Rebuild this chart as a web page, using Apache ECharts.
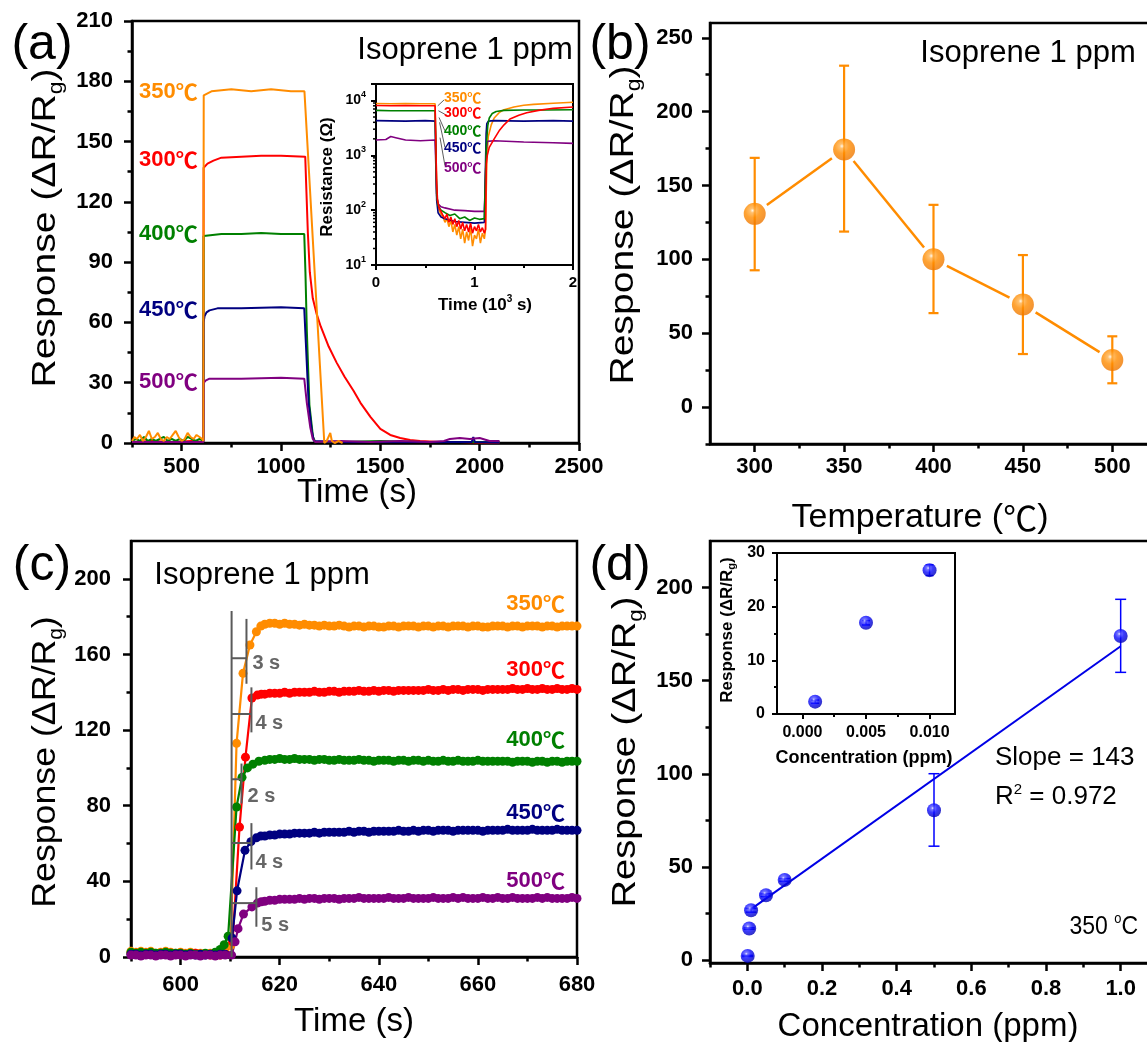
<!DOCTYPE html>
<html>
<head>
<meta charset="utf-8">
<script src="https://cdn.jsdelivr.net/npm/echarts@6.0.0/dist/echarts.min.js"></script>
<style>
html,body{margin:0;padding:0;background:#ffffff;}
#chart{width:1147px;height:1042px;}
</style>
</head>
<body>
<div id="chart"></div>
<script>
// ======================= DATA =======================
// ---- (a) main: response vs time (s) ----
const a350 = [[250,1],[262,3],[275,2],[290,4],[305,1],[320,3],[335,6],[350,2],[365,3],[380,5],[395,2],[410,1],[425,3],[440,2],[455,4],[470,6],[485,3],[500,1],[515,2],[530,5],[545,3],[560,2],[575,4],[590,3],[603,2],[609,1],[611,173],[650,175],[750,176],[850,175],[950,176],[1050,175],[1118,175],[1218,0],[1230,1],[1248,5],[1256,1],[1270,0],[1290,1],[1310,0]];
const a300 = [[250,0.5],[350,1],[450,0.5],[550,1],[609,0.5],[610.5,137],[630,139],[660,140.5],[700,142],[800,142.5],[900,143],[1000,143],[1122,142.5],[1128,125],[1135,105],[1145,85],[1160,72],[1180,64],[1200,58],[1240,48],[1280,40],[1320,33],[1365,26],[1400,20],[1450,13],[1500,7],[1550,4],[1600,2.5],[1650,1.5],[1700,1],[1800,0.5],[1900,0.5],[2000,0.3],[2100,0.3]];
const a400 = [[250,1],[270,2],[290,1],[310,3],[330,1],[350,2],[370,1],[390,2],[410,3],[430,1],[450,2],[470,1],[490,2],[510,1],[530,3],[550,2],[570,1],[590,2],[609,1],[610.5,103],[700,104],[800,104],[900,104.5],[1000,104],[1117,104],[1123,85],[1130,56],[1143,19],[1161,3],[1172,0.5],[1300,0.5],[1500,1],[1700,0.5],[1900,0.5],[2100,0.5]];
const a450 = [[250,0.5],[400,0.5],[550,0.5],[609,0.5],[610.5,60],[615,63],[625,65],[640,66],[680,67],[800,67],[1000,67.5],[1117,67],[1125,50],[1139,20],[1155,6],[1166,1],[1300,0.5],[1600,0.5],[1960,0.5],[1968,3],[1976,0.5],[2100,0.3]];
const a500 = [[250,0.5],[400,0.5],[550,0.5],[609,0.5],[610.5,30],[620,31],[640,32],[800,32],[1000,32.5],[1117,32],[1130,20],[1147,8],[1160,2],[1172,0.5],[1300,1],[1450,0.5],[1600,1],[1750,0.5],[1820,1],[1850,2],[1900,2.5],[1950,2],[2000,2.5],[2050,1],[2100,1]];
const tempNames = ['350','300','400','450','500'];
const aXTicks = [500,1000,1500,2000,2500];
const aXMinor = [250,750,1250,1750,2250];
const aYTicks = [0,30,60,90,120,150,180,210];
const aYMinor = [15,45,75,105,135,165,195];

// ---- (a) inset: resistance (ohm) vs time (10^3 s) ----
const ai350 = [[0,8800],[0.15,8700],[0.3,8800],[0.45,8700],[0.6,8700],[0.612,8600],[0.616,250],[0.625,130],[0.64,100],[0.66,85],[0.68,75],[0.70,60],[0.72,70],[0.74,50],[0.76,65],[0.78,40],[0.80,55],[0.82,35],[0.84,50],[0.86,30],[0.88,45],[0.90,25],[0.92,40],[0.94,28],[0.96,48],[0.98,22],[1.00,35],[1.02,30],[1.04,45],[1.06,25],[1.08,38],[1.10,30],[1.112,45],[1.125,800],[1.14,2200],[1.17,3600],[1.2,4800],[1.25,6000],[1.3,6800],[1.4,7600],[1.5,8200],[1.6,8500],[1.8,8900],[2.0,9300]];
const ai300 = [[0,8100],[0.15,8000],[0.3,8100],[0.45,8000],[0.6,8000],[0.612,7900],[0.616,300],[0.625,150],[0.64,110],[0.66,95],[0.68,80],[0.70,70],[0.72,85],[0.74,60],[0.76,75],[0.78,55],[0.80,70],[0.82,50],[0.84,65],[0.86,45],[0.88,60],[0.90,42],[0.92,55],[0.94,40],[0.96,58],[0.98,38],[1.00,50],[1.02,42],[1.04,55],[1.06,40],[1.08,48],[1.10,38],[1.112,45],[1.12,700],[1.13,1000],[1.15,1400],[1.2,2000],[1.25,2800],[1.3,3600],[1.36,4600],[1.45,5400],[1.53,6000],[1.65,6600],[1.8,7200],[2.0,7600]];
const ai400 = [[0,6600],[0.15,6500],[0.3,6500],[0.45,6500],[0.6,6500],[0.612,6500],[0.616,200],[0.63,120],[0.66,100],[0.7,90],[0.75,80],[0.8,85],[0.85,70],[0.9,75],[0.95,65],[1.0,72],[1.05,68],[1.1,70],[1.112,75],[1.12,1500],[1.135,3500],[1.15,4800],[1.18,5800],[1.22,6300],[1.3,6600],[1.5,6700],[1.7,6700],[2.0,6800]];
const ai450 = [[0,4300],[0.3,4200],[0.5,4300],[0.6,4200],[0.612,4200],[0.616,150],[0.63,90],[0.66,75],[0.7,70],[0.8,62],[0.9,60],[1.0,58],[1.1,60],[1.112,65],[1.118,2500],[1.125,3800],[1.14,4200],[1.2,4300],[1.5,4200],[1.8,4300],[2.0,4200]];
const ai500 = [[0,1900],[0.1,1950],[0.15,2200],[0.2,2100],[0.3,1900],[0.45,1850],[0.6,1900],[0.612,1900],[0.616,180],[0.63,130],[0.66,115],[0.7,110],[0.8,100],[0.9,98],[1.0,95],[1.1,95],[1.112,95],[1.12,1200],[1.13,1800],[1.2,1850],[1.5,1750],[1.8,1700],[2.0,1650]];
const aiLeaders = [[[0.627,8000],[0.69,10200]],[[0.634,6500],[0.70,5600]],[[0.64,4900],[0.70,2800]],[[0.645,4000],[0.70,1400]],[[0.65,2100],[0.70,650]]];
const aiXTicks = [0,1,2];
const aiXMinor = [0.5,1.5];
const aiYMinor = [20,30,40,50,60,70,80,90,200,300,400,500,600,700,800,900,2000,3000,4000,5000,6000,7000,8000,9000];

// ---- (b) response vs temperature ----
const bTemp = [300,350,400,450,500];
const bResp = [130.8,174.4,100.1,69.5,31.8];
const bErrLo = [92.6,118.8,63.6,35.9,16.1];
const bErrHi = [168.7,231.1,136.9,102.9,47.9];
const bXTicks = [300,350,400,450,500];
const bXMinor = [325,375,425,475];
const bYTicks = [0,50,100,150,200,250];
const bYMinor = [-25,25,75,125,175,225];

// ---- (c) response vs time, zoom on rise ----
const c350Pre = [[590,3],[591,2.5],[592,3],[593,2.5],[594,3],[595,2],[596,2.5],[597,3],[598,2.5],[599,2],[600,2.5],[601,2],[602,2.5],[603,2],[604,2],[605,1.5],[606,2],[607,1.5],[608,2],[609,2.5],[610.1,6],[611.3,113],[612.6,150],[614,165],[615.3,172],[616.2,175]];
const c300Pre = [[590,2],[591,2],[592,1.5],[593,2],[594,2],[595,1.5],[596,2],[597,1.5],[598,2],[599,1.5],[600,2],[601,1.5],[602,1.5],[603,2],[604,1.5],[605,1.5],[606,1],[607,1.5],[608,1],[609,1.5],[610.5,8],[611.9,68.7],[613.1,105.7],[614.4,137],[615.5,138.5],[616.3,139]];
const c400Pre = [[590,2.5],[591,2],[592,2.5],[593,2],[594,2.5],[595,2],[596,2],[597,2.5],[598,2],[599,2],[600,2],[601,1.5],[602,2],[603,1.5],[604,1.5],[605,2],[606,1.5],[607,2.5],[608,4],[608.8,6.5],[609.6,11],[611.3,79.3],[612.4,95],[613.5,100],[614.6,102],[615.8,103.5]];
const c450Pre = [[590,1.5],[591,1.5],[592,1],[593,1.5],[594,1.5],[595,1],[596,1.5],[597,1.5],[598,1],[599,1.5],[600,1.5],[601,1],[602,1.5],[603,1],[604,1.5],[605,1],[606,1.5],[607,1],[608,1.5],[609,1.5],[610.4,10],[611.4,35],[613,56.4],[614.2,61],[615.3,63],[616.2,64]];
const c500Pre = [[590,1],[591,1],[592,0.5],[593,1],[594,1],[595,0.5],[596,1],[597,1],[598,0.5],[599,1],[600,1],[601,0.5],[602,1],[603,1],[604,0.5],[605,1],[606,1],[607,0.5],[608,1],[609,1],[610.3,1],[611,8],[611.6,15],[612.7,22.7],[614.4,26.5],[615.5,28.5],[616.3,29.2]];
const cPlatT = [617,618,619,620,621,622,623,624,625,626,627,628,629,630,631,632,633,634,635,636,637,638,639,640,641,642,643,644,645,646,647,648,649,650,651,652,653,654,655,656,657,658,659,660,661,662,663,664,665,666,667,668,669,670,671,672,673,674,675,676,677,678,679,680];
const c350Plat = [176,176.5,176.5,176,176.5,176,176,175.5, 176,175.5,175.5,175,175.5,175,175,175.5, 175,174.5,175,175,174.5,175,175,174.5, 174.5,175,175,174.5,175,175,175,174.5, 175,175,174.5,175,175,174.5,175,175, 175,174.5,175,175,174.5,174.5,175,175, 175,174.5,175,175,174.5,175,175,175, 174.5,175,175,174.5,175,175,175,175];
const c300Plat = [139,139.5,139.5,139.5,140,139.5,140,140, 140,140,140.5,140,140,140.5,140.5,140, 140.5,140.5,140.5,141,140.5,140.5,141,140.5, 141,141,140.5,141,141,141,141,141, 141,141.5,141,141,141.5,141,141.5,141.5, 141,141.5,141.5,141.5,141,141.5,141.5,141.5, 141.5,141.5,142,141.5,141.5,142,141.5,141.5, 142,141.5,141.5,142,141.5,141.5,142,141.5];
const c400Plat = [104,104.5,104.5,105,104.5,104.5,105,104.5, 104.5,104.5,104,104.5,104.5,104,104,104.5, 104,104,104,104.5,104,104,103.5,104, 104,104,103.5,104,104,103.5,104,104, 103.5,104,103.5,103.5,104,103.5,103.5,104, 103.5,103.5,103.5,104,103.5,103.5,103.5,103.5, 103.5,103.5,103,103.5,103.5,103.5,103,103.5, 103.5,103,103.5,103.5,103,103.5,103.5,103.5];
const c450Plat = [64,64.5,64.5,65,65,65,65.5,65.5, 65.5,65.5,66,65.5,66,66,66,66, 66,66.5,66,66.5,66.5,66,66.5,66.5, 66.5,66.5,66.5,67,66.5,66.5,67,66.5, 67,67,66.5,67,67,67,66.5,67, 67,67,67,67,66.5,67,67,67, 67,67.5,67,67,67,67,67.5,67, 67,67,67,67.5,67,67,67,67];
const c500Plat = [29.5,30,30,30.5,30.5,30.5,30.5,31, 30.5,31,31,30.5,31,31,31,30.5, 31,31,31,31.5,31,31,31,31, 31,31.5,31,31,31,31.5,31,31, 31,31,31.5,31,31,31,31.5,31, 31.5,31,31,31,31.5,31,31,31.5, 31,31,31.5,31,31,31,31,31.5, 31,31.5,31,31,31,31,31.5,31];
// response-time markers (s, response)
const rtStart = 610.3;
const rtTop = 183;
const rtEnd = [613.3,614.3,612.3,614.3,615.3];
const rtLevel = [158,128.5,94,60.3,28.5];
const rtTickLo = [144.5,118.8,81.2,46.3,16];
const rtTickHi = [178.8,142.6,102.3,70.8,36.9];
const rtText = ['3 s','4 s','2 s','4 s','5 s'];
const rtLabelAt = [[614.5,155],[615.1,123.5],[613.5,85],[615.1,50],[616.3,16.9]];
const cXTicks = [600,620,640,660,680];
const cXMinor = [590,610,630,650,670];
const cYTicks = [0,40,80,120,160,200];
const cYMinor = [20,60,100,140,180];

// ---- (d) response vs concentration ----
const dConc = [0.001,0.005,0.01,0.05,0.1,0.5,1.0];
const dResp = [2.3,17.0,26.8,34.9,43.1,80.5,174];
const dErrLo = [2.0,16.6,25.8,34.2,42.4,61.2,154.5];
const dErrHi = [2.6,17.4,27.8,35.6,43.8,100.1,193.7];
const dFit = [[0.01,27.4],[1.0,168.5]];
const dXTicks = [0,0.2,0.4,0.6,0.8,1.0];
const dXMinor = [-0.1,0.1,0.3,0.5,0.7,0.9];
const dYTicks = [0,50,100,150,200];
const dYMinor = [25,75,125,175];
const diXTicks = [0,0.005,0.01];
const diXMinor = [0.0025,0.0075];
const diYTicks = [0,10,20,30];
const diYMinor = [5,15,25];

// ======================= STYLE / LAYOUT =======================
const FONT = '"Liberation Sans", Arial, Helvetica, sans-serif';
const CJK = '"Noto Sans CJK SC", "Noto Sans CJK JP", sans-serif';
const COL = ['#FF8C00','#FF0000','#008000','#000080','#800080'];
const GRAY = '#5a5a5a';

const GRIDS = [
  {left:132, top:21,  width:447, height:422}, // a
  {left:376, top:84,  width:197, height:181}, // a inset
  {left:710, top:23,  width:447, height:421}, // b
  {left:131, top:541, width:446, height:416}, // c
  {left:710, top:541, width:448, height:422}, // d
  {left:777, top:553, width:178, height:161}  // d inset
].map((g, i) => Object.assign({
  show:true, borderColor:'#000', borderWidth: (i===1||i===5)?2:2.5,
  backgroundColor:'transparent', containLabel:false, outerBoundsMode:'none'
}, g));

const X = [], Y = [];
function axisPair(dim, gi, cfg) {
  const common = {
    type: cfg.type || 'value', gridIndex: gi, position: dim === 'x' ? 'bottom' : 'left',
    min: cfg.min, max: cfg.max, silent: true,
    splitLine:{show:false}, minorTick:{show:false}, minorSplitLine:{show:false}
  };
  if (cfg.type === 'log') common.logBase = 10;
  const major = Object.assign({}, common, {
    axisLine:{show:true, onZero:false, lineStyle:{color:'#000', width:cfg.lw}},
    axisTick:{show:true, inside:false, length:cfg.tl, lineStyle:{color:'#000', width:cfg.lw}},
    axisLabel:{show:true, margin:cfg.margin, color:'#000', fontFamily:FONT, fontWeight:'bold',
      fontSize:cfg.fs, formatter:cfg.fmt, rich:cfg.rich, lineHeight:cfg.lh}
  });
  if (cfg.majors) { major.axisTick.customValues = cfg.majors; major.axisLabel.customValues = cfg.majors; }
  const minor = Object.assign({}, common, {
    axisLine:{show:false, onZero:false},
    axisTick:{show:!!cfg.minors, inside:false, length:cfg.ml, lineStyle:{color:'#000', width:cfg.lw}},
    axisLabel:{show:false}
  });
  if (cfg.minors) minor.axisTick.customValues = cfg.minors;
  return [major, minor];
}
function addAxes(gi, xc, yc) {
  const [xa, xb] = axisPair('x', gi, xc), [ya, yb] = axisPair('y', gi, yc);
  X.push(xa, xb); Y.push(ya, yb);
}
const intFmt = v => String(Math.round(v));
// a
addAxes(0, {min:250, max:2500, majors:aXTicks, minors:aXMinor, lw:2.5, tl:8, ml:4.5, margin:13, fs:22, fmt:intFmt},
           {min:0, max:210, majors:aYTicks, minors:aYMinor, lw:2.5, tl:8, ml:4.5, margin:19, fs:22, fmt:intFmt});
// a inset
addAxes(1, {min:0, max:2, majors:aiXTicks, minors:aiXMinor, lw:2, tl:5, ml:3, margin:10, fs:15, fmt:intFmt},
           {type:'log', min:10, max:20000, lw:2, tl:5, ml:3, margin:10, fs:14, lh:20,
            fmt: v => { const e = Math.log10(v); const r = Math.round(e); return Math.abs(e - r) > 0.01 ? '' : '10{sup|' + r + '}'; },
            rich:{sup:{fontSize:9, fontWeight:'bold', fontFamily:FONT, verticalAlign:'top', lineHeight:10}}});
// b
addAxes(2, {min:275, max:525, majors:bXTicks, minors:bXMinor, lw:2.5, tl:8, ml:4.5, margin:12, fs:22, fmt:intFmt},
           {min:-25, max:260, majors:bYTicks, minors:bYMinor, lw:2.5, tl:8, ml:4.5, margin:17, fs:22, fmt:intFmt});
// c
addAxes(3, {min:590, max:680, majors:cXTicks, minors:cXMinor, lw:2.5, tl:8, ml:4.5, margin:17, fs:22, fmt:intFmt},
           {min:0, max:220, majors:cYTicks, minors:cYMinor, lw:2.5, tl:8, ml:4.5, margin:20, fs:22, fmt:intFmt});
// d
addAxes(4, {min:-0.1, max:1.1, majors:dXTicks, minors:dXMinor, lw:2.5, tl:8, ml:4.5, margin:15, fs:22, fmt: v => v.toFixed(1)},
           {min:-1.5, max:225, majors:dYTicks, minors:dYMinor, lw:2.5, tl:8, ml:4.5, margin:17, fs:22, fmt:intFmt});
// d inset
addAxes(5, {min:-0.002, max:0.012, majors:diXTicks, minors:diXMinor, lw:2, tl:5, ml:3, margin:11, fs:16, fmt: v => v.toFixed(3)},
           {min:0, max:30, majors:diYTicks, minors:diYMinor, lw:2, tl:5, ml:3, margin:12, fs:16, fmt:intFmt});

const ax = k => ({xAxisIndex:2*k, yAxisIndex:2*k});
const zip = (t, v) => t.slice(0, Math.min(t.length, v.length)).map((x, i) => [x, v[i]]);

function errRender(color, cap, lw) {
  return (params, api) => {
    const x = api.value(0), lo = api.value(1), hi = api.value(2);
    const a = api.coord([x, hi]), b = api.coord([x, lo]);
    const st = {stroke:color, lineWidth:lw};
    return {type:'group', children:[
      {type:'line', shape:{x1:a[0], y1:a[1], x2:b[0], y2:b[1]}, style:st},
      {type:'line', shape:{x1:a[0]-cap, y1:a[1], x2:a[0]+cap, y2:a[1]}, style:st},
      {type:'line', shape:{x1:b[0]-cap, y1:b[1], x2:b[0]+cap, y2:b[1]}, style:st}
    ]};
  };
}
function sphere(c0, c1, c2, c3) {
  return new echarts.graphic.RadialGradient(0.4, 0.35, 0.65, [
    {offset:0, color:c0}, {offset:0.16, color:c1}, {offset:0.5, color:c2}, {offset:1, color:c3}]);
}

const series = [];
// ---- (a) main lines
[a350, a300, a400, a450, a500].forEach((d, i) => series.push(Object.assign({
  type:'line', data:d, showSymbol:false, symbol:'none', lineStyle:{color:COL[i], width:2},
  itemStyle:{color:COL[i]}, z:3 + (i===0 ? 1 : 0), animation:false, silent:true
}, ax(0))));
// ---- (a) inset lines
[ai350, ai300, ai400, ai450, ai500].forEach((d, i) => series.push(Object.assign({
  type:'line', data:d, showSymbol:false, symbol:'none', lineStyle:{color:COL[i], width:1.6},
  z: [3,6,5,4,4][i], animation:false, silent:true
}, ax(1))));
aiLeaders.forEach(seg => series.push(Object.assign({
  type:'line', data:seg, showSymbol:false, symbol:'none', lineStyle:{color:'#333', width:0.8},
  z:7, animation:false, silent:true, clip:false
}, ax(1))));
// log-axis minor ticks for the inset
series.push(Object.assign({
  type:'custom', data: aiYMinor.map(v => [0, v]), clip:false, silent:true, animation:false, z:10,
  renderItem: (params, api) => {
    const p = api.coord([api.value(0), api.value(1)]);
    return {type:'line', shape:{x1:p[0]-3, y1:p[1], x2:p[0], y2:p[1]}, style:{stroke:'#000', lineWidth:1.5}};
  }
}, ax(1)));

// ---- (b)
series.push(Object.assign({
  type:'custom', data: bTemp.map((t, i) => [t, bErrLo[i], bErrHi[i]]), silent:true, animation:false, z:3,
  renderItem: errRender('#FF8C00', 5, 2.2), encode:{x:0, y:[1,2]}
}, ax(2)));
series.push(Object.assign({
  type:'custom', data: bTemp.slice(1).map((t, i) => [bTemp[i], bResp[i], t, bResp[i+1]]), silent:true, animation:false, z:3,
  encode:{x:[0,2], y:[1,3]},
  renderItem: (params, api) => {
    const p0 = api.coord([api.value(0), api.value(1)]), p1 = api.coord([api.value(2), api.value(3)]);
    const dx = p1[0]-p0[0], dy = p1[1]-p0[1], L = Math.hypot(dx, dy), g = 15;
    const ux = dx / L, uy = dy / L;
    return {type:'line', shape:{x1:p0[0]+ux*g, y1:p0[1]+uy*g, x2:p1[0]-ux*g, y2:p1[1]-uy*g},
      style:{stroke:'#FF8C00', lineWidth:2.5}};
  }
}, ax(2)));
series.push(Object.assign({
  type:'scatter', data: zip(bTemp, bResp), symbol:'circle', symbolSize:22, silent:true, animation:false, z:5,
  itemStyle:{color: sphere('#fff4e0', '#ffb04a', '#ff8c00', '#ee7700')}
}, ax(2)));

// ---- (c)
const cPre = [c350Pre, c300Pre, c400Pre, c450Pre, c500Pre];
const cPlat = [c350Plat, c300Plat, c400Plat, c450Plat, c500Plat];
cPre.forEach((pre, i) => series.push(Object.assign({
  type:'line', data: pre.concat(zip(cPlatT, cPlat[i])), symbol:'circle', symbolSize:9, showSymbol:true,
  lineStyle:{color:COL[i], width:2.2}, itemStyle:{color:COL[i], borderWidth:0},
  z: 3, animation:false, silent:true
}, ax(3))));
series.push(Object.assign({
  type:'line', data:[[rtStart, 0], [rtStart, rtTop]], symbol:'none', showSymbol:false,
  lineStyle:{color:GRAY, width:2}, z:8, animation:false, silent:true
}, ax(3)));
series.push(Object.assign({
  type:'custom', z:9, silent:true, animation:false, clip:false,
  data: rtEnd.map((e, i) => [e, rtLevel[i], rtTickLo[i], rtTickHi[i], rtLabelAt[i][0], rtLabelAt[i][1]]),
  encode:{x:[0,4], y:[1,2,3,5]},
  renderItem: (params, api) => {
    const i = params.dataIndex;
    const end = api.value(0), level = api.value(1);
    const s = api.coord([rtStart, level]), e = api.coord([end, level]);
    const lo = api.coord([end, api.value(2)]), hi = api.coord([end, api.value(3)]);
    const lp = api.coord([api.value(4), api.value(5)]);
    const st = {stroke:GRAY, lineWidth:2};
    return {type:'group', children:[
      {type:'line', shape:{x1:s[0], y1:s[1], x2:e[0], y2:e[1]}, style:st},
      {type:'line', shape:{x1:lo[0], y1:lo[1], x2:hi[0], y2:hi[1]}, style:st},
      {type:'text', x:lp[0], y:lp[1], style:{text:rtText[i], fill:'#666666', fontFamily:FONT, fontWeight:'bold', fontSize:20, align:'left', verticalAlign:'middle'}}
    ]};
  }
}, ax(3)));

// ---- (d)
series.push(Object.assign({
  type:'line', data:dFit, symbol:'none', showSymbol:false, lineStyle:{color:'#0000E6', width:2},
  z:3, animation:false, silent:true
}, ax(4)));
series.push(Object.assign({
  type:'custom', data: dConc.map((c, i) => [c, dErrLo[i], dErrHi[i]]), silent:true, animation:false, z:4,
  renderItem: errRender('#0000FF', 5.5, 1.5), encode:{x:0, y:[1,2]}
}, ax(4)));
series.push(Object.assign({
  type:'scatter', data: zip(dConc, dResp), symbol:'circle', symbolSize:14, silent:true, animation:false, z:5,
  itemStyle:{color: sphere('#e8e8ff', '#5a5aff', '#0a0aff', '#0000b8')}
}, ax(4)));
// d inset
series.push(Object.assign({
  type:'custom', data: dConc.slice(0,3).map((c, i) => [c, dErrLo[i], dErrHi[i]]), silent:true, animation:false, z:4,
  renderItem: errRender('#0000FF', 4, 1.5), encode:{x:0, y:[1,2]}
}, ax(5)));
series.push(Object.assign({
  type:'scatter', data: zip(dConc.slice(0,3), dResp.slice(0,3)), symbol:'circle', symbolSize:14, silent:true, animation:false, z:5,
  itemStyle:{color: sphere('#e8e8ff', '#5a5aff', '#0a0aff', '#0000b8')}
}, ax(5)));

// ======================= TEXT =======================
const G = [];
function txt(x, y, text, o) {
  o = o || {};
  G.push({type:'text', x:x, y:y, rotation:o.rot || 0, scaleX:o.sx || 1, scaleY:o.sy || 1, z:100, silent:true,
    style:{text:text, x:0, y:0, fill:o.color || '#000', fontFamily:FONT, fontSize:o.size || 20,
      fontWeight:o.weight || 'normal', align:o.align || 'center', verticalAlign:'middle', rich:o.rich}});
}
const R90 = Math.PI / 2;
const ytRich = (m, s, lh) => ({m:{fontSize:m, fontFamily:FONT, lineHeight:lh, verticalAlign:'middle'},
  s:{fontSize:s, fontFamily:FONT, lineHeight:s, verticalAlign:'bottom'}});
const ytRichB = (m, s, lh) => ({m:{fontSize:m, fontFamily:FONT, fontWeight:'bold', lineHeight:lh, verticalAlign:'middle'},
  s:{fontSize:s, fontFamily:FONT, fontWeight:'bold', lineHeight:s, verticalAlign:'bottom'}});
const degRich = (size, color) => ({
  n:{fontSize:size, fontFamily:FONT, fontWeight:'bold', fill:color, lineHeight:size + 4, verticalAlign:'middle'},
  c:{fontSize:size, fontFamily:CJK, fontWeight:'bold', fill:color, lineHeight:size + 4, verticalAlign:'middle'}});
const degText = t => '{n|' + t + '}{c|℃}';
const YT = '{m|Response (ΔR/R}{s|g}{m|)}';

// panel letters
txt(42, 45, '(a)', {size:50});
txt(620, 45, '(b)', {size:50});
txt(42, 566, '(c)', {size:50});
txt(620, 566, '(d)', {size:50});
// gas annotation
txt(465, 50, 'Isoprene 1 ppm', {size:31});
txt(1028, 53, 'Isoprene 1 ppm', {size:31});
txt(262, 575, 'Isoprene 1 ppm', {size:31});
// y titles
txt(46, 228, YT, {rot:R90, sx:1.15, rich:ytRich(34, 20, 40)});
txt(624, 225, YT, {rot:R90, sx:1.15, rich:ytRich(34, 20, 40)});
txt(46, 762, YT, {rot:R90, sx:1.05, rich:ytRich(34, 20, 40)});
txt(626, 752, YT, {rot:R90, sx:1.12, rich:ytRich(34, 20, 40)});
// x titles
txt(357, 493, 'Time (s)', {size:33});
txt(920, 518, '{m|Temperature (}{c|℃}{m|)}', {rich:{m:{fontSize:34, fontFamily:FONT, lineHeight:38, verticalAlign:'middle'}, c:{fontSize:34, fontFamily:CJK, lineHeight:38, verticalAlign:'middle'}}});
txt(354, 1022, 'Time (s)', {size:33});
txt(928, 1027, 'Concentration (ppm)', {size:33});
// (a) temperature labels
[92, 160, 234, 310, 382].forEach((y, i) => txt(139, y, degText(tempNames[i]), {align:'left', color:COL[i], rich:degRich(22, COL[i])}));
// (c) temperature labels
[604, 670, 740, 813, 881].forEach((y, i) => txt(565, y, degText(tempNames[i]), {align:'right', color:COL[i], rich:degRich(22, COL[i])}));
// (a) inset labels
[98, 113, 131, 148, 168].forEach((y, i) => txt(444, y, degText(tempNames[i]), {align:'left', color:COL[i], rich:degRich(14, COL[i])}));
// (a) inset titles
txt(327, 177, 'Resistance (Ω)', {rot:R90, size:17, weight:'bold'});
txt(485, 305, '{m|Time (10}{p|3}{m| s)}', {rich:{m:{fontSize:17, fontWeight:'bold', fontFamily:FONT, lineHeight:22, verticalAlign:'middle'}, p:{fontSize:10, fontWeight:'bold', fontFamily:FONT, lineHeight:10, verticalAlign:'top'}}});
// (d) inset titles
txt(727, 630, YT, {rot:R90, rich:ytRichB(17, 11, 20)});
txt(864, 758, 'Concentration (ppm)', {size:18, weight:'bold'});
// (d) fit annotation
txt(995, 758, 'Slope = 143', {size:26, align:'left'});
txt(995, 797, '{m|R}{p|2}{m| = 0.972}', {align:'left', rich:{m:{fontSize:26, fontFamily:FONT, lineHeight:30, verticalAlign:'middle'}, p:{fontSize:15, fontFamily:FONT, lineHeight:15, verticalAlign:'top'}}});
txt(1138, 927, '{m|350 }{p|o}{m|C}', {align:'right', sx:0.92, rich:{m:{fontSize:25, fontFamily:FONT, lineHeight:30, verticalAlign:'middle'}, p:{fontSize:14, fontFamily:FONT, lineHeight:14, verticalAlign:'top'}}});

// ======================= CHART =======================
const chart = echarts.init(document.getElementById('chart'), null, {renderer:'canvas', width:1147, height:1042});
chart.setOption({
  animation:false,
  backgroundColor:'#ffffff',
  grid: GRIDS,
  xAxis: X,
  yAxis: Y,
  series: series,
  graphic: G
});
</script>
</body>
</html>
